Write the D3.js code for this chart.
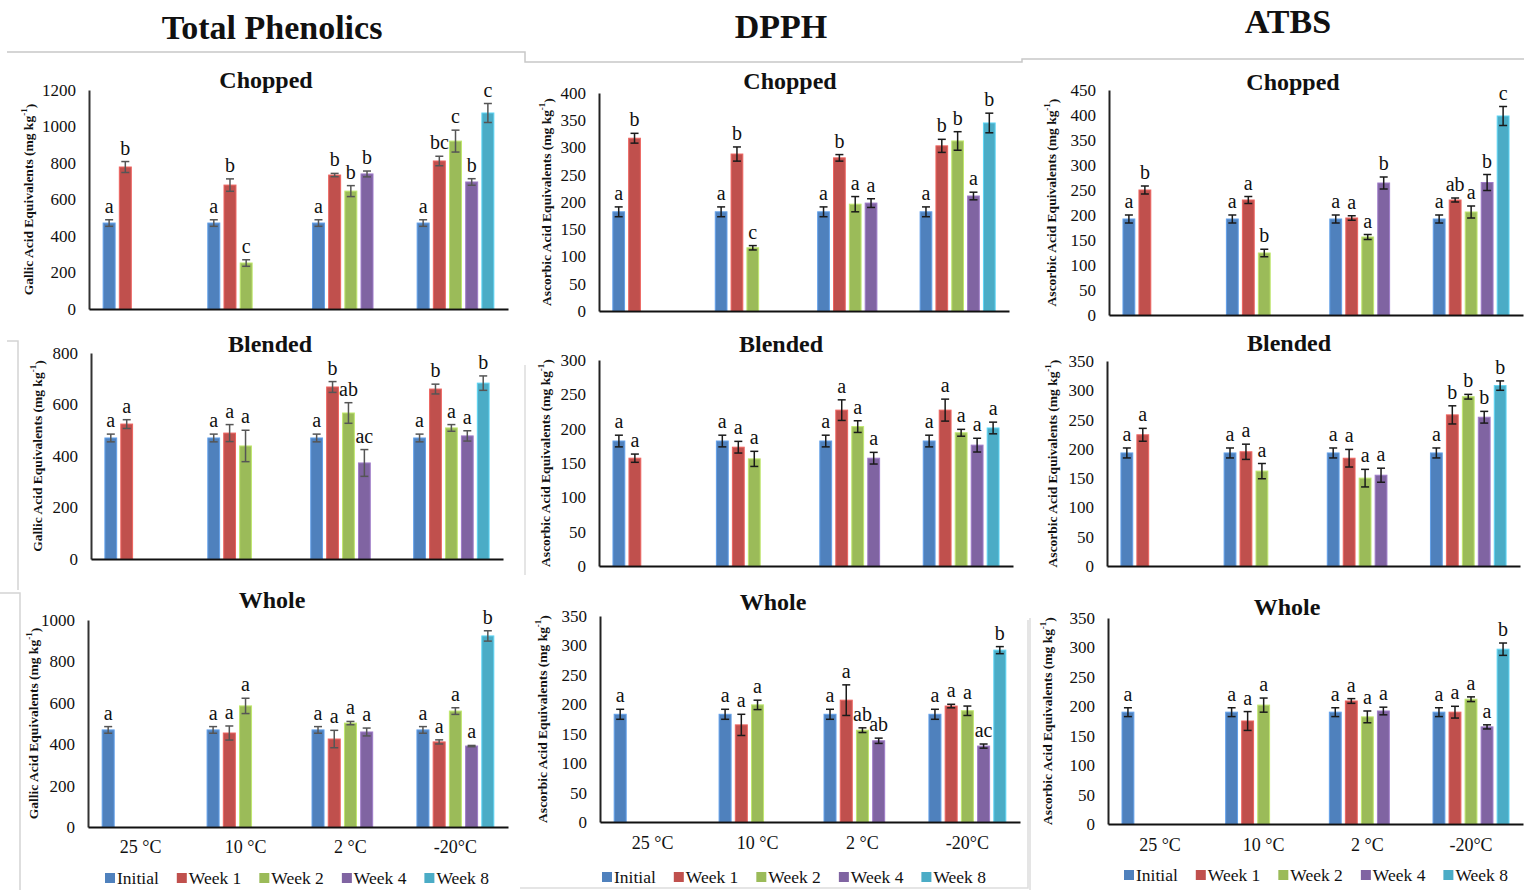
<!DOCTYPE html>
<html><head><meta charset="utf-8">
<script src="https://cdn.jsdelivr.net/npm/d3@7"></script>
<style>
html,body{margin:0;padding:0;background:#fff;}
svg{display:block;}
text{font-family:"Liberation Serif","Times New Roman",serif;fill:#111;}
</style></head>
<body>
<svg id="chart" width="1524" height="890"></svg>
<script>
// ---------- DATA ----------
const categories = ["25 °C", "10 °C", "2 °C", "-20°C"];
const series = ["Initial", "Week 1", "Week 2", "Week 4", "Week 8"];
const colors = ["#4F81BD", "#C0504D", "#9BBB59", "#8064A2", "#4BACC6"];
const columnTitles = ["Total Phenolics", "DPPH", "ATBS"];
const rowTitles = ["Chopped", "Blended", "Whole"];
const yLabels = ["Gallic Acid Equivalents (mg kg", "Ascorbic Acid Equivalents (mg kg", "Ascorbic Acid Equivalents (mg kg"];

// Total Phenolics
const tpChoppedMean = [[471, 778], [471, 679, 252], [471, 734, 646, 740], [471, 811, 920, 696, 1074]];
const tpChoppedErr = [[18, 30], [18, 34, 18], [18, 9, 30, 16], [18, 26, 60, 18, 52]];
const tpChoppedLetters = [["a", "b"], ["a", "b", "c"], ["a", "b", "b", "b"], ["a", "bc", "c", "b", "c"]];
const tpChoppedTicks = [0, 200, 400, 600, 800, 1000, 1200];

const tpBlendedMean = [[470, 524], [470, 489, 439], [470, 668, 567, 373], [470, 660, 509, 478, 683]];
const tpBlendedErr = [[15, 17], [15, 33, 61], [15, 21, 40, 52], [15, 19, 13, 20, 28]];
const tpBlendedLetters = [["a", "a"], ["a", "a", "a"], ["a", "b", "ab", "ac"], ["a", "b", "a", "a", "b"]];
const tpBlendedTicks = [0, 200, 400, 600, 800];

const tpWholeMean = [[469], [469, 454, 585], [469, 425, 502, 459], [469, 411, 560, 391, 923]];
const tpWholeErr = [[16], [16, 34, 37], [16, 42, 8, 19], [16, 10, 16, 3, 25]];
const tpWholeLetters = [["a"], ["a", "a", "a"], ["a", "a", "a", "a"], ["a", "a", "a", "a", "b"]];
const tpWholeTicks = [0, 200, 400, 600, 800, 1000];

// DPPH
const dpChoppedMean = [[182, 317], [182, 288, 116], [182, 281, 196, 198], [182, 303, 312, 211, 345]];
const dpChoppedErr = [[9, 9], [9, 13, 4], [9, 6, 14, 8], [9, 12, 17, 7, 18]];
const dpChoppedLetters = [["a", "b"], ["a", "b", "c"], ["a", "b", "a", "a"], ["a", "b", "b", "a", "b"]];
const dpChoppedTicks = [0, 50, 100, 150, 200, 250, 300, 350, 400];

const dpBlendedMean = [[182, 157], [182, 173, 156], [182, 227, 203, 157], [182, 227, 194, 176, 201]];
const dpBlendedErr = [[8.5, 6], [8.5, 8.5, 11], [8.5, 15, 8.5, 8.5], [8.5, 16, 5, 10, 8.5]];
const dpBlendedLetters = [["a", "a"], ["a", "a", "a"], ["a", "a", "a", "a"], ["a", "a", "a", "a", "a"]];
const dpBlendedTicks = [0, 50, 100, 150, 200, 250, 300];

const dpWholeMean = [[183], [183, 165, 199], [183, 207, 156, 138], [183, 197, 189, 129, 292]];
const dpWholeErr = [[8.5], [8.5, 18, 8], [8.5, 26, 4, 4.5], [8.5, 3, 8, 3.5, 6]];
const dpWholeLetters = [["a"], ["a", "a", "a"], ["a", "a", "ab", "ab"], ["a", "a", "a", "ac", "b"]];
const dpWholeTicks = [0, 50, 100, 150, 200, 250, 300, 350];

// ATBS
const abChoppedMean = [[192, 250], [192, 230, 124], [192, 194, 156, 264], [192, 230, 206, 265, 398]];
const abChoppedErr = [[8, 8], [8, 7, 7.5], [8, 4.5, 5, 12], [8, 4, 12, 16, 19]];
const abChoppedLetters = [["a", "b"], ["a", "a", "b"], ["a", "a", "a", "b"], ["a", "ab", "a", "b", "c"]];
const abChoppedTicks = [0, 50, 100, 150, 200, 250, 300, 350, 400, 450];

const abBlendedMean = [[193, 224], [193, 195, 162], [193, 184, 150, 155], [193, 258, 289, 254, 308]];
const abBlendedErr = [[8.5, 11], [8.5, 13, 13], [8.5, 15, 15, 12], [8.5, 15.5, 4, 10, 8]];
const abBlendedLetters = [["a", "a"], ["a", "a", "a"], ["a", "a", "a", "a"], ["a", "b", "b", "b", "b"]];
const abBlendedTicks = [0, 50, 100, 150, 200, 250, 300, 350];

const abWholeMean = [[190], [190, 175, 202], [190, 209, 182, 192], [190, 190, 212, 165, 297]];
const abWholeErr = [[7.5], [7.5, 16, 12], [7.5, 4, 10, 6.5], [7.5, 10, 4, 3.5, 10.5]];
const abWholeLetters = [["a"], ["a", "a", "a"], ["a", "a", "a", "a"], ["a", "a", "a", "a", "b"]];
const abWholeTicks = [0, 50, 100, 150, 200, 250, 300, 350];

// ---------- LAYOUT ----------
const svg = d3.select("#chart");
const panels = [
  {col:0,row:0,mean:tpChoppedMean,err:tpChoppedErr,let:tpChoppedLetters,ticks:tpChoppedTicks, ax:89, top:90, zero:309, right:508, tx:266, ty:80, lx:28},
  {col:1,row:0,mean:dpChoppedMean,err:dpChoppedErr,let:dpChoppedLetters,ticks:dpChoppedTicks, ax:599, top:93, zero:311, right:1009, tx:790, ty:81, lx:546},
  {col:2,row:0,mean:abChoppedMean,err:abChoppedErr,let:abChoppedLetters,ticks:abChoppedTicks, ax:1109, top:90, zero:315, right:1523, tx:1293, ty:82, lx:1051},
  {col:0,row:1,mean:tpBlendedMean,err:tpBlendedErr,let:tpBlendedLetters,ticks:tpBlendedTicks, ax:91, top:353, zero:559, right:503, tx:270, ty:344, lx:37},
  {col:1,row:1,mean:dpBlendedMean,err:dpBlendedErr,let:dpBlendedLetters,ticks:dpBlendedTicks, ax:599, top:360, zero:566, right:1013, tx:781, ty:344, lx:545},
  {col:2,row:1,mean:abBlendedMean,err:abBlendedErr,let:abBlendedLetters,ticks:abBlendedTicks, ax:1107, top:361, zero:566, right:1520, tx:1289, ty:343, lx:1052},
  {col:0,row:2,mean:tpWholeMean,err:tpWholeErr,let:tpWholeLetters,ticks:tpWholeTicks, ax:88, top:620, zero:827, right:508, tx:272, ty:600, lx:33},
  {col:1,row:2,mean:dpWholeMean,err:dpWholeErr,let:dpWholeLetters,ticks:dpWholeTicks, ax:600, top:616, zero:822, right:1020, tx:773, ty:602, lx:542},
  {col:2,row:2,mean:abWholeMean,err:abWholeErr,let:abWholeLetters,ticks:abWholeTicks, ax:1108, top:618, zero:824, right:1523, tx:1287, ty:607, lx:1047}
];
const catLabelY = [847, 843, 845];
const legendY = [878, 877, 875];
const legendX = [105, 602, 1124];

// faint frame lines (as in the source figure)
const frame = svg.append("g").attr("fill","none").attr("stroke","#c8c8c8").attr("stroke-width",1.5);
frame.append("path").attr("d","M7,52 H525 V62 H1022 V59 H1524");
frame.append("path").attr("d","M7,341 H18 V590").attr("stroke","#d4d4d4");
frame.append("path").attr("d","M0,593 H20 V890").attr("stroke","#d4d4d4");
frame.append("path").attr("d","M525,365 V575").attr("stroke","#dddddd");
frame.append("path").attr("d","M1028,620 V888 H520").attr("stroke","#dddddd");
frame.append("path").attr("d","M1030,618 V890").attr("stroke","#dddddd");

// column titles
const colTitleX = [272, 781, 1288], colTitleY = [27, 26, 21];
columnTitles.forEach((t,i)=>{
  svg.append("text").attr("x",colTitleX[i]).attr("y",colTitleY[i]).attr("text-anchor","middle")
    .attr("dominant-baseline","central").style("font-size","34px").style("font-weight","bold").text(t);
});

panels.forEach(p=>{
  const g = svg.append("g");
  const ymax = p.ticks[p.ticks.length-1];
  const y = d3.scaleLinear().domain([0, ymax]).range([p.zero, p.top]);
  const x0 = d3.scaleBand().domain(categories).range([p.ax, p.right]).paddingInner(0.227).paddingOuter(0.115);
  const x1 = d3.scaleBand().domain(series).range([0, x0.bandwidth()]).paddingInner(0.26).paddingOuter(0.13);

  // title
  g.append("text").attr("x",p.tx).attr("y",p.ty).attr("text-anchor","middle").attr("dominant-baseline","central")
    .style("font-size","24px").style("font-weight","bold").text(rowTitles[p.row]);

  // y label
  const ly = (p.top + p.zero)/2;
  const lab = g.append("text").attr("transform",`translate(${p.lx},${ly}) rotate(-90)`)
    .attr("text-anchor","middle").attr("dominant-baseline","central")
    .style("font-size","13.5px").style("font-weight","bold");
  lab.append("tspan").text(yLabels[p.col]);
  lab.append("tspan").attr("dy","-0.45em").style("font-size","9px").text("-1");
  lab.append("tspan").attr("dy","0.45em").text(")");

  // bars
  categories.forEach((c,ci)=>{
    const vals = p.mean[ci];
    vals.forEach((v,si)=>{
      const bx = x0(c) + x1(series[si]);
      const bw = x1.bandwidth();
      g.append("rect").attr("x",bx).attr("y",y(v)).attr("width",bw).attr("height",y(0)-y(v))
        .attr("fill",colors[si]).attr("stroke",d3.color(colors[si]).brighter(0.6)).attr("stroke-width",1);
      const e = p.err[ci][si];
      const cx = bx + bw/2;
      const ec = p.col===0 ? "#555" : "#1a1a1a";
      const eg = g.append("g").attr("stroke",ec).attr("stroke-width",1.5);
      eg.append("line").attr("x1",cx).attr("x2",cx).attr("y1",y(v+e)).attr("y2",y(v-e));
      eg.append("line").attr("x1",cx-4).attr("x2",cx+4).attr("y1",y(v+e)).attr("y2",y(v+e));
      eg.append("line").attr("x1",cx-4).attr("x2",cx+4).attr("y1",y(v-e)).attr("y2",y(v-e));
      g.append("text").attr("x",cx).attr("y",y(v+e)-7).attr("text-anchor","middle")
        .style("font-size","20px").text(p.let[ci][si]);
    });
  });

  // y axis
  const ya = g.append("g").attr("transform",`translate(${p.ax},0)`)
    .call(d3.axisLeft(y).tickValues(p.ticks).tickFormat(d3.format("d")).tickSize(0).tickSizeOuter(0).tickPadding(13));
  ya.select(".domain").attr("stroke", p.col===0 ? "#333" : "#222").attr("stroke-width",2);
  ya.selectAll("text").style("font-size","17px").style("font-family","'Liberation Serif',serif").attr("fill","#222");

  // x axis
  const xa = g.append("g").attr("transform",`translate(0,${p.zero})`)
    .call(d3.axisBottom(x0).tickSize(0).tickSizeOuter(0).tickPadding(14));
  xa.select(".domain").attr("stroke","#111").attr("stroke-width",2);
  if (p.row === 2) {
    xa.selectAll("text").attr("y", catLabelY[p.col]-p.zero).attr("dy",null).attr("dominant-baseline","central")
      .style("font-size","18px").style("font-family","'Liberation Serif',serif").attr("fill","#222");
  } else {
    xa.selectAll("text").remove();
  }

  // legend (bottom row)
  if (p.row === 2) {
    const lg = g.append("g");
    let cx = legendX[p.col];
    series.forEach((s,si)=>{
      lg.append("rect").attr("x",cx).attr("y",legendY[p.col]-5).attr("width",10).attr("height",10).attr("fill",colors[si]);
      const t = lg.append("text").attr("x",cx+12).attr("y",legendY[p.col]).attr("dominant-baseline","central")
        .style("font-size","17.5px").text(s);
      cx += 12 + t.node().getComputedTextLength() + 18;
    });
  }
});
</script>
</body></html>
